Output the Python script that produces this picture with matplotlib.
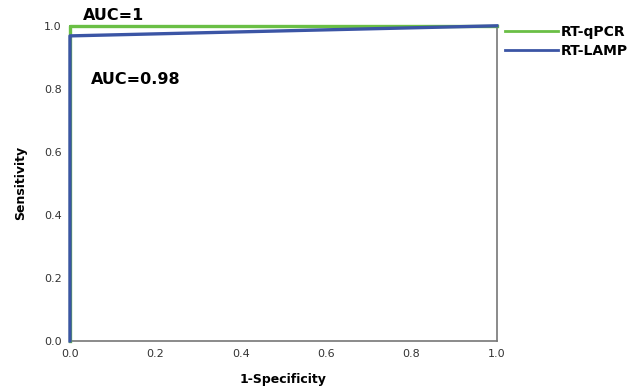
import matplotlib.pyplot as plt

# ROC curve points
qpcr_fpr = [0.0, 0.0, 1.0]
qpcr_tpr = [0.0, 1.0, 1.0]
lamp_fpr = [0.0, 0.0, 1.0]
lamp_tpr = [0.0, 0.968, 1.0]
ticks = [0.0, 0.2, 0.4, 0.6, 0.8, 1.0]

fig = plt.figure(figsize=(6.38, 3.91), dpi=100)
ax = fig.add_axes([0.1097, 0.128, 0.669, 0.806])

ax.plot(qpcr_fpr, qpcr_tpr, color='#6abf45', lw=2.4, label='RT-qPCR', clip_on=False, zorder=3)
ax.plot(lamp_fpr, lamp_tpr, color='#3b55a5', lw=2.4, label='RT-LAMP', clip_on=False, zorder=4)

ax.set_xlim(0, 1)
ax.set_ylim(0, 1)
ax.set_xticks(ticks)
ax.set_yticks(ticks)
ax.set_xticklabels([f'{t:.1f}' for t in ticks])
ax.set_yticklabels([f'{t:.1f}' for t in ticks])
ax.tick_params(length=0, labelsize=8, colors='#333333', pad=6)
for s in ax.spines.values():
    s.set_color('#777777')
    s.set_linewidth(1.2)

ax.set_xlabel('1-Specificity', fontsize=9, fontweight='bold', labelpad=10)
ax.set_ylabel('Sensitivity', fontsize=9, fontweight='bold', labelpad=12)

ax.text(0.03, 1.008, 'AUC=1', fontsize=11.5, fontweight='bold', va='bottom')
ax.text(0.05, 0.83, 'AUC=0.98', fontsize=11.5, fontweight='bold', va='center')

leg = ax.legend(loc='upper left', bbox_to_anchor=(1.0, 1.03), frameon=False,
                prop={'size': 10, 'weight': 'bold'}, handlelength=3.8,
                handletextpad=0.2, labelspacing=0.35, borderaxespad=0.2)
for h in leg.get_lines():
    h.set_linewidth(2)

fig.savefig('out.png', dpi=100)
